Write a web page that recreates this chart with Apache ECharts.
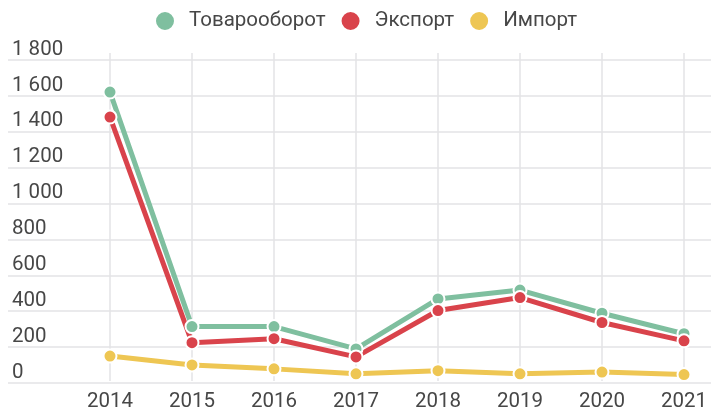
<!DOCTYPE html>
<html>
<head>
<meta charset="utf-8">
<script src="https://cdn.jsdelivr.net/npm/echarts@6/dist/echarts.min.js"></script>
<style>
  html, body { margin: 0; padding: 0; background: #ffffff; }
  #chart { width: 711px; height: 412px; }
</style>
</head>
<body>
<div id="chart"></div>
<script>
// Years on the horizontal axis
const years = ['2014', '2015', '2016', '2017', '2018', '2019', '2020', '2021'];

// Series values
const turnover = [1620, 305, 305, 180, 460, 510, 380, 265];
const exportVals = [1480, 215, 237, 135, 395, 468, 328, 225];
const importVals = [140, 90, 68, 40, 58, 40, 50, 36];

// Value axis range
const yMin = 0;
const yMax = 1800;
const yStep = 200;

const COLORS = { turnover: '#7fbf9f', export: '#d9434b', import: '#eec653' };
const FONT = 'Roboto, "Noto Sans", sans-serif';
const FONT_SIZE = 20.5;
const TEXT_COLOR = '#474747';

const chart = echarts.init(document.getElementById('chart'), null, { renderer: 'canvas' });

function fmtThousands(v) {
  return String(v).replace(/\B(?=(\d{3})+(?!\d))/g, ' ');
}

function lineSeries(name, data, color) {
  return {
    name: name,
    type: 'line',
    xAxisIndex: 1,
    yAxisIndex: 1,
    data: data,
    symbol: 'circle',
    symbolSize: 13,
    showAllSymbol: true,
    lineStyle: { width: 5, color: color },
    itemStyle: { color: color, borderColor: '#ffffff', borderWidth: 2 },
    emphasis: { disabled: true },
    animation: false
  };
}

// Plot height of the series grid is slightly taller than the value grid,
// so its top boundary sits above the highest horizontal line.
const gridBottom = 29;
const valueTop = 60;
const seriesTop = 53;
const plotH = 412 - gridBottom - valueTop;
const seriesMax = yMax * (412 - gridBottom - seriesTop) / plotH;

chart.setOption({
  backgroundColor: '#ffffff',
  textStyle: { fontFamily: FONT },
  legend: {
    top: 5,
    left: 149,
    icon: 'circle',
    itemWidth: 38,
    itemHeight: 20,
    itemGap: 14,
    textStyle: { fontSize: FONT_SIZE, color: TEXT_COLOR, fontFamily: FONT },
    data: ['Товарооборот', 'Экспорт', 'Импорт']
  },
  grid: [
    // full-width grid for horizontal lines and value labels
    { left: 8, right: 0, top: valueTop, bottom: gridBottom },
    // grid for the lines and the year axis
    { left: 110, right: 27, top: seriesTop, bottom: gridBottom }
  ],
  xAxis: [
    { gridIndex: 0, type: 'category', data: years, show: false },
    {
      gridIndex: 1,
      type: 'category',
      data: years,
      boundaryGap: false,
      axisLine: { show: false },
      axisTick: { show: false },
      splitLine: { show: true, lineStyle: { color: '#e3e3e6', width: 1.5 } },
      axisLabel: { fontSize: FONT_SIZE, color: TEXT_COLOR, margin: 10, fontFamily: FONT }
    }
  ],
  yAxis: [
    {
      gridIndex: 0,
      type: 'value',
      min: yMin,
      max: yMax,
      interval: yStep,
      axisLine: { show: false },
      axisTick: { show: false },
      splitLine: { show: true, lineStyle: { color: '#e3e3e6', width: 1.5 } },
      axisLabel: {
        inside: true,
        margin: 4,
        fontSize: FONT_SIZE,
        color: TEXT_COLOR,
        fontFamily: FONT,
        verticalAlign: 'bottom',
        formatter: fmtThousands
      }
    },
    {
      gridIndex: 1,
      type: 'value',
      min: yMin,
      max: seriesMax,
      show: false,
      splitLine: { show: false }
    }
  ],
  series: [
    lineSeries('Товарооборот', turnover, COLORS.turnover),
    lineSeries('Экспорт', exportVals, COLORS.export),
    lineSeries('Импорт', importVals, COLORS.import)
  ]
});
</script>
</body>
</html>
